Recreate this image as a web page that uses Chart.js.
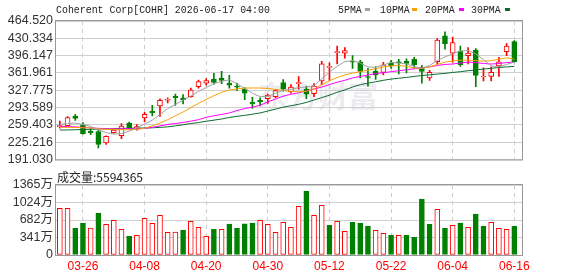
<!DOCTYPE html>
<html>
<head>
<meta charset="utf-8">
<script src="https://cdn.jsdelivr.net/npm/chart.js@4.4.1/dist/chart.umd.min.js"></script>
<style>
  html, body { margin: 0; padding: 0; background: #fff; }
  #wrap { position: relative; width: 578px; height: 276px; overflow: hidden; }
  canvas { position: absolute; left: 0; }
  #kline { top: 0; }
  #vol { top: 170px; }
</style>
</head>
<body>
<div id="wrap">
  <canvas id="kline" width="578" height="170"></canvas>
  <canvas id="vol" width="578" height="106"></canvas>
</div>
<script>
// chart data
const title = "Coherent Corp[COHR] 2026-06-17 04:00";
const volTitle = "成交量";
const lastVolume = 5594365;

const dates = [
  "03-23", "03-24", "03-25", "03-26", "03-27", "03-30", "03-31", "04-01", "04-02", "04-06",
  "04-07", "04-08", "04-09", "04-10", "04-13", "04-14", "04-15", "04-16", "04-17", "04-20",
  "04-21", "04-22", "04-23", "04-24", "04-27", "04-28", "04-29", "04-30", "05-01", "05-04",
  "05-05", "05-06", "05-07", "05-08", "05-11", "05-12", "05-13", "05-14", "05-15", "05-18",
  "05-19", "05-20", "05-21", "05-22", "05-26", "05-27", "05-28", "05-29", "06-01", "06-02",
  "06-03", "06-04", "06-05", "06-08", "06-09", "06-10", "06-11", "06-12", "06-15", "06-16"
];
const dateTicks = ["03-26", "04-08", "04-20", "04-30", "05-12", "05-22", "06-04", "06-16"];

const openP = [
  256, 258, 277, 259, 247, 246, 224, 244, 238, 263,
  251, 273, 286, 297, 308, 316, 313, 315, 335, 342,
  350, 352, 342, 336, 330, 304, 308, 311, 315, 343,
  325, 341, 330, 321, 346, 373, 402, 401, 385, 384,
  355, 365, 363, 382, 383, 385, 389, 373, 352, 384,
  435, 401, 405, 396, 407, 354, 355, 376, 404, 424
];
const highP = [
  267, 276, 280, 264, 252, 249, 238, 250, 262, 265,
  260, 284, 298, 311, 313, 320, 319, 332, 348, 351,
  361, 365, 357, 342, 333, 314, 313, 320, 329, 349,
  339, 355, 336, 341, 385, 382, 415, 412, 396, 387,
  371, 374, 383, 387, 389, 390, 393, 377, 367, 430,
  443, 433, 415, 412, 410, 372, 374, 393, 420, 426
];
const lowP = [
  253, 257, 268, 241, 240, 214, 221, 243, 232, 251,
  249, 265, 277, 276, 303, 298, 301, 314, 332, 338,
  340, 341, 332, 327, 309, 292, 297, 302, 313, 326,
  322, 330, 311, 315, 339, 347, 380, 391, 371, 352,
  336, 349, 358, 371, 360, 362, 371, 342, 347, 380,
  409, 383, 375, 380, 335, 346, 346, 355, 396, 383
];
const closeP = [
  258, 274, 272, 242, 244, 221, 237, 249, 257, 253,
  256, 280, 283, 308, 310, 313, 309, 328, 345, 347,
  343, 347, 338, 334, 322, 301, 305, 318, 327, 330,
  334, 343, 320, 336, 380, 374, 404, 406, 383, 365,
  353, 358, 378, 376, 382, 381, 378, 365, 363, 427,
  420, 422, 378, 401, 357, 355, 363, 384, 415, 384
];

const ma5 = [
  260.6, 262.1, 263.0, 260.2, 256.4, 249.8, 244.1, 241.2, 242.2, 246.9,
  253.6, 261.1, 268.7, 280.1, 291.5, 300.0, 308.5, 316.1, 325.6, 333.2,
  340.8, 345.5, 348.3, 340.8, 331.3, 321.8, 315.2, 315.2, 321.8, 327.5,
  329.4, 333.2, 334.1, 337.0, 350.2, 363.5, 374.9, 384.3, 386.2, 381.5,
  373.9, 373.0, 377.7, 382.4, 381.5, 379.6, 374.9, 371.1, 376.8, 386.2,
  393.8, 399.5, 405.2, 406.1, 399.5, 388.1, 375.8, 373.9, 378.7, 383.4
];
const ma10 = [
  254.5, 254.5, 254.5, 253.6, 253.6, 251.7, 250.7, 250.7, 249.8, 249.8,
  250.7, 252.6, 257.4, 263.0, 269.7, 277.3, 284.8, 293.4, 301.9, 309.5,
  317.1, 323.7, 328.4, 330.3, 332.2, 332.2, 332.2, 331.3, 329.4, 327.5,
  325.6, 324.6, 325.6, 330.3, 338.9, 346.4, 353.1, 357.8, 361.6, 364.4,
  367.3, 370.1, 373.9, 375.8, 376.8, 374.9, 372.0, 371.1, 373.9, 378.7,
  383.4, 385.3, 387.2, 387.2, 386.2, 385.3, 386.2, 389.1, 391.9, 389.1
];
const ma20 = [
  256.4, 256.0, 255.5, 254.5, 253.6, 252.6, 251.7, 251.7, 251.7, 251.7,
  251.7, 252.6, 254.5, 257.4, 260.2, 262.1, 264.0, 266.8, 269.7, 274.4,
  277.3, 280.1, 282.9, 287.7, 291.5, 294.3, 298.1, 304.7, 310.4, 316.1,
  319.9, 322.7, 326.5, 330.3, 334.1, 338.9, 343.6, 347.4, 352.1, 355.0,
  357.8, 360.7, 362.5, 364.4, 366.3, 368.2, 370.1, 371.5, 373.9, 376.8,
  378.7, 379.6, 381.5, 383.4, 382.4, 380.6, 379.6, 380.6, 382.4, 383.4
];
const ma30 = [
  249.2, 249.4, 249.8, 250.2, 250.7, 251.3, 251.7, 252.1, 252.5, 252.6,
  253.0, 253.2, 253.6, 254.5, 255.5, 257.4, 259.6, 262.1, 264.0, 266.5,
  268.7, 271.0, 274.0, 276.3, 278.2, 280.5, 283.0, 286.7, 290.5, 294.3,
  297.2, 300.0, 303.8, 308.5, 313.3, 318.0, 323.7, 328.4, 334.1, 338.8,
  341.7, 344.5, 347.4, 349.8, 351.5, 353.1, 355.0, 356.9, 358.2, 359.7,
  361.2, 362.9, 364.4, 366.3, 367.9, 369.6, 371.1, 372.6, 373.9, 374.9
];

// volume in 万 shares
const volume = [
  911, 908, 521, 618, 523, 813, 599, 677, 501, 371,
  384, 716, 618, 774, 443, 445, 488, 657, 540, 365,
  501, 503, 605, 521, 607, 624, 677, 599, 443, 638,
  540, 950, 1242, 774, 969, 579, 657, 462, 638, 618,
  566, 482, 423, 384, 386, 385, 345, 1092, 599, 891,
  521, 579, 624, 540, 800, 560, 638, 521, 501, 559.4365
];

const priceTicks = [464.520, 430.334, 396.147, 361.961, 327.775, 293.589, 259.403, 225.216, 191.030];
const volTicks = [1365, 1024, 682, 341, 0];

const maNames = ["5PMA", "10PMA", "20PMA", "30PMA"];
const maColors = ["#a0a0a0", "#f5a100", "#ff00ff", "#0d6b32"];

const red = "#ff0000";
const green = "#008000";

// derived helpers
const xs = dates.map((d, i) => i);
const tickIdx = dateTicks.map(d => dates.indexOf(d));
const up = closeP.map((c, i) => c >= openP[i]);
const volUp = closeP.map((c, i) => c >= (i ? closeP[i - 1] : openP[i]));

const labelFont = { family: "'Liberation Sans', Arial, 'Noto Sans CJK SC'", size: 12.5 };

const frame = {
  id: "frame",
  beforeDatasetsDraw(chart) {
    const { ctx, chartArea: a } = chart;
    ctx.save();
    if (chart.canvas.id === "kline") {
      ctx.font = "bold 30px 'Noto Sans CJK SC'";
      ctx.fillStyle = "rgba(200,200,212,0.35)";
      ctx.fillText("东方财富", 258, 107);
    }
    ctx.strokeStyle = "#999";
    ctx.lineWidth = 1;
    ctx.strokeRect(a.left - 0.5, a.top - 0.5, a.right - a.left + 1, a.bottom - a.top + 1);
    ctx.restore();
  }
};

const texts = {
  id: "texts",
  afterDraw(chart) {
    const ctx = chart.ctx;
    ctx.save();
    ctx.fillStyle = "#222";
    ctx.textBaseline = "alphabetic";
    if (chart.canvas.id === "kline") {
      ctx.font = "11px 'Liberation Mono'";
      ctx.save();
      ctx.translate(56, 13);
      ctx.scale(0.9, 1);
      ctx.fillText(title, 0, 0);
      ctx.restore();
      const lx = [338, 380, 425, 471];
      const bx = [365, 412, 459, 505];
      maNames.forEach((n, i) => {
        ctx.save();
        ctx.translate(lx[i], 13);
        ctx.scale(0.9, 1);
        ctx.fillStyle = "#222";
        ctx.fillText(n, 0, 0);
        ctx.restore();
        ctx.fillStyle = maColors[i];
        ctx.fillRect(bx[i], 8, 5, 3);
      });
    } else {
      ctx.font = "12px 'Noto Sans CJK SC'";
      ctx.fillText(volTitle + ":" + lastVolume, 57, 12);
    }
    ctx.restore();
  }
};

function xScale(showLabels) {
  return {
    type: "linear",
    min: -0.5,
    max: 60,
    offset: false,
    afterBuildTicks: s => { s.ticks = tickIdx.map(v => ({ value: v })); },
    afterFit: s => { s.height = showLabels ? 21 : 0; },
    grid: { color: "#cccccc", drawTicks: false, offset: false },
    border: { display: false, dash: [4, 4] },
    ticks: {
      display: showLabels,
      autoSkip: false,
      maxRotation: 0,
      padding: 4,
      color: red,
      font: { family: "'Liberation Sans', Arial", size: 12 },
      callback: v => dates[v]
    }
  };
}

new Chart(document.getElementById("kline"), {
  type: "bar",
  data: {
    datasets: [
      ...[ma5, ma10, ma20, ma30].map((arr, k) => ({
        type: "line",
        label: maNames[k],
        data: xs.map(i => ({ x: i, y: arr[i] })),
        borderColor: maColors[k],
        borderWidth: 1,
        pointRadius: 0,
        tension: 0
      })),
      {
        label: "body",
        data: xs.map(i => ({ x: i, y: [openP[i], closeP[i]] })),
        backgroundColor: up.map(u => u ? "#ffffff" : green),
        borderColor: up.map(u => u ? red : green),
        borderWidth: 1,
        borderSkipped: false,
        barThickness: 5,
        minBarLength: 1,
        grouped: false
      },
      {
        label: "wick",
        data: xs.map(i => ({ x: i, y: [lowP[i], highP[i]] })),
        backgroundColor: up.map(u => u ? red : green),
        borderWidth: 0,
        barThickness: 1,
        grouped: false
      }
    ]
  },
  options: {
    responsive: false,
    animation: false,
    events: [],
    layout: { padding: { left: 0, right: 56, top: 21, bottom: 5 } },
    plugins: { legend: { display: false }, tooltip: { enabled: false } },
    scales: {
      x: xScale(false),
      y: {
        min: Math.min(...priceTicks),
        max: Math.max(...priceTicks),
        afterBuildTicks: s => { s.ticks = priceTicks.map(v => ({ value: v })); },
        afterFit: s => { s.width = 56; },
        grid: { color: "#d0d0d0", drawTicks: false },
        border: { display: false },
        ticks: {
          autoSkip: false,
          padding: 3,
          color: "#333",
          font: labelFont,
          callback: v => v.toFixed(3)
        }
      }
    }
  },
  plugins: [frame, texts]
});

new Chart(document.getElementById("vol"), {
  type: "bar",
  data: {
    datasets: [{
      label: volTitle,
      data: xs.map(i => ({ x: i, y: volume[i] })),
      backgroundColor: volUp.map(u => u ? "#ffffff" : green),
      borderColor: volUp.map(u => u ? red : green),
      borderWidth: 1,
      borderSkipped: false,
      barThickness: 5,
      grouped: false
    }]
  },
  options: {
    responsive: false,
    animation: false,
    events: [],
    layout: { padding: { left: 0, right: 56, top: 15, bottom: 0 } },
    plugins: { legend: { display: false }, tooltip: { enabled: false } },
    scales: {
      x: xScale(true),
      y: {
        min: 0,
        max: Math.max(...volTicks),
        afterBuildTicks: s => { s.ticks = volTicks.map(v => ({ value: v })); },
        afterFit: s => { s.width = 56; },
        grid: { color: "#d0d0d0", drawTicks: false },
        border: { display: false },
        ticks: {
          autoSkip: false,
          padding: 3,
          color: "#333",
          font: labelFont,
          callback: v => v === 0 ? "0" : v + "万"
        }
      }
    }
  },
  plugins: [frame, texts]
});
</script>
</body>
</html>
